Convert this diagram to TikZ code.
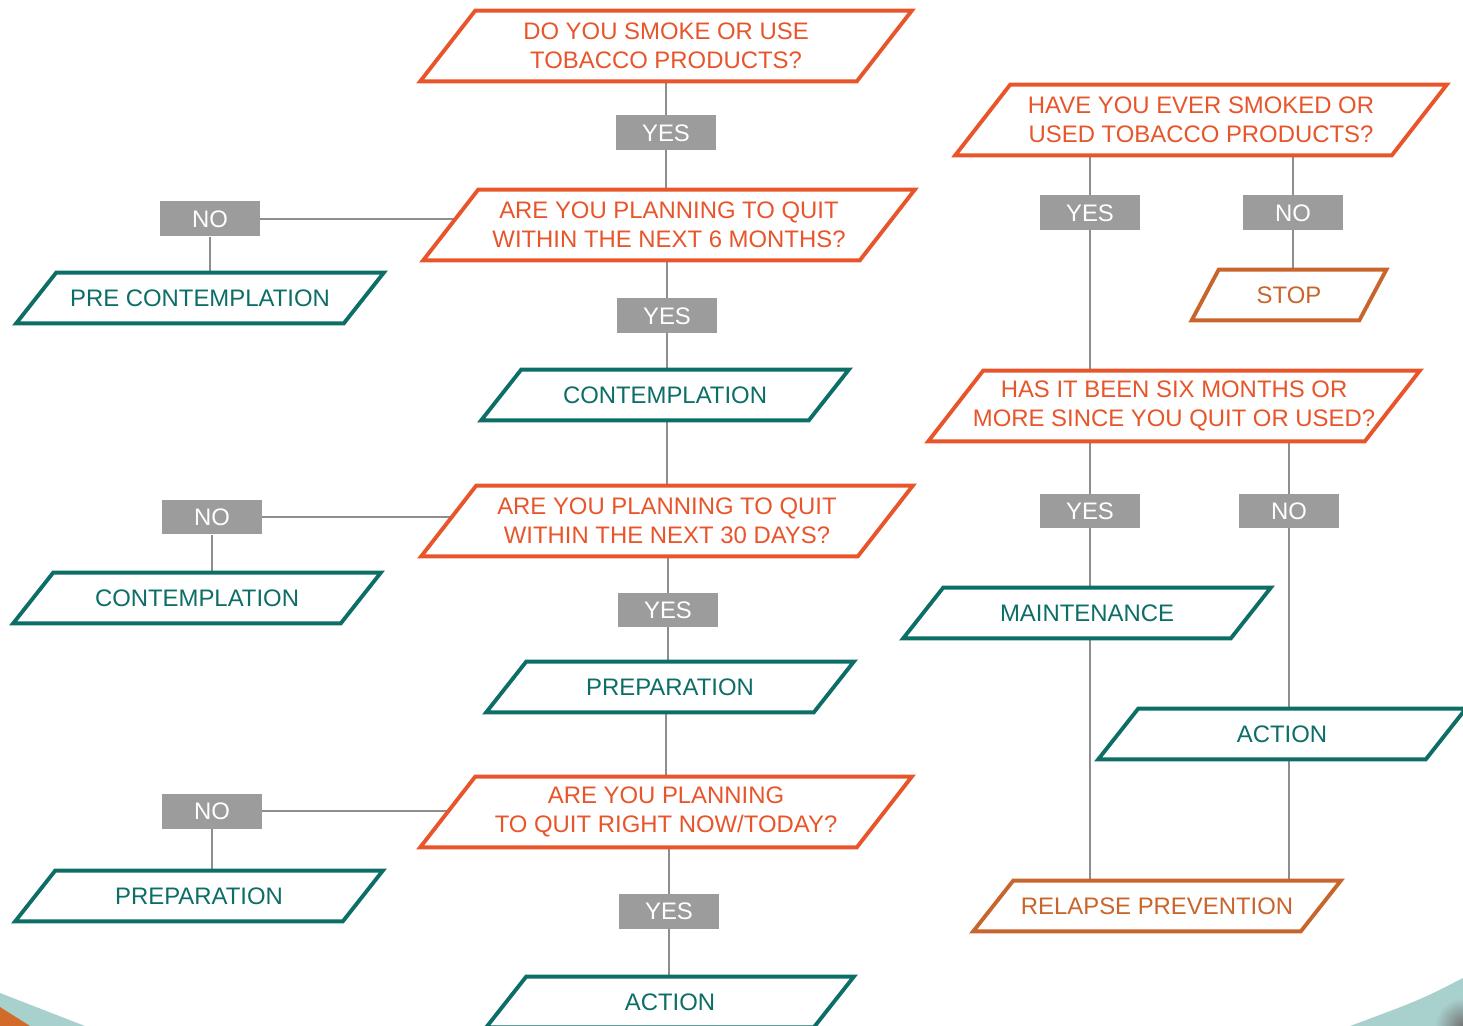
\documentclass[tikz,border=0pt]{standalone}
\usepackage{fontspec}
\setmainfont{Liberation Sans}
\usepackage{tikz}
\usetikzlibrary{backgrounds}
\usetikzlibrary{calc}

\definecolor{quorange}{HTML}{E8552B}
\definecolor{stteal}{HTML}{0C6E66}
\definecolor{endorange}{HTML}{C8652C}
\definecolor{boxgray}{HTML}{9C9C9C}
\definecolor{linegray}{HTML}{8E8E8E}
\definecolor{lightteal}{HTML}{A8D0CD}
\definecolor{cornerorange}{HTML}{D26A2A}

\tikzstyle{para} = [align=center, inner sep=0pt, font=\fontsize{13.6}{16.3}\selectfont]
\tikzstyle{question} = [para, text=quorange, minimum width=8.72cm, minimum height=1.4cm]
\tikzstyle{stage} = [para, text=stteal, minimum width=6.54cm, minimum height=1.0cm]
\tikzstyle{final} = [para, text=endorange, minimum width=6.54cm, minimum height=1.0cm]
\tikzstyle{answer} = [fill=boxgray, text=white, minimum width=2cm, minimum height=0.7cm, inner sep=0pt, font=\fontsize{13.6}{16}\selectfont]
\tikzstyle{outline} = [line width=2.2pt, fill=white, line join=miter]
\tikzstyle{link} = [linegray, line width=1.1pt]

\begin{document}
\begin{tikzpicture}[x=0.02cm, y=-0.02cm]
\useasboundingbox (0,0) rectangle (1463,1026);

\fill[lightteal] (0,993) -- (85,1026) -- (0,1026) -- cycle;
\fill[cornerorange] (0,1007) -- (30,1026) -- (0,1026) -- cycle;
\begin{scope}
\clip (1463,978) .. controls (1420,1000) .. (1350,1026) -- (1463,1026) -- cycle;
\fill[lightteal] (1340,970) rectangle (1463,1026);
\shade[inner color=black!55, outer color=lightteal] (1463,1026) circle (28);
\end{scope}

\node[question] (q1) at (666,46) {DO YOU SMOKE OR USE\\TOBACCO PRODUCTS?};
\node[answer] (yes1) at (666,133) {YES};
\node[question] (q2) at (669,225) {ARE YOU PLANNING TO QUIT\\WITHIN THE NEXT 6 MONTHS?};
\node[answer] (no2) at (210,219) {NO};
\node[stage] (pre) at (200,298) {PRE CONTEMPLATION};
\node[answer] (yes2) at (667,316) {YES};
\node[stage] (cont1) at (665,395) {CONTEMPLATION};
\node[question] (q3) at (667,521) {ARE YOU PLANNING TO QUIT\\WITHIN THE NEXT 30 DAYS?};
\node[answer] (no3) at (212,517) {NO};
\node[stage] (cont2) at (197,598) {CONTEMPLATION};
\node[answer] (yes3) at (668,610) {YES};
\node[stage] (prep1) at (670,687) {PREPARATION};
\node[question] (q4) at (666,812) {ARE YOU PLANNING\\TO QUIT RIGHT NOW/TODAY?};
\node[answer] (no4) at (212,811) {NO};
\node[stage] (prep2) at (199,896) {PREPARATION};
\node[answer] (yes4) at (669,911) {YES};
\node[stage] (act1) at (670,1002) {ACTION};

\node[question] (q5) at (1201,120) {HAVE YOU EVER SMOKED OR\\USED TOBACCO PRODUCTS?};
\node[answer] (yes5) at (1090,213) {YES};
\node[answer] (no5) at (1293,213) {NO};
\node[final, minimum width=3.34cm] (stop) at (1289,295) {STOP};
\node[question] (q6) at (1174,406) {HAS IT BEEN SIX MONTHS OR\\MORE SINCE YOU QUIT OR USED?};
\node[answer] (yes6) at (1090,511) {YES};
\node[answer] (no6) at (1289,511) {NO};
\node[stage] (maint) at (1087,613) {MAINTENANCE};
\node[stage] (act2) at (1282,734) {ACTION};
\node[final] (relapse) at (1157,906) {RELAPSE PREVENTION};

\begin{scope}[on background layer]
\draw[link] (yes1 |- q1) -- (yes1 |- q2);
\draw[link] (yes2 |- q2) -- (yes2 |- cont1);
\draw[link] (q3 |- cont1) -- (q3);
\draw[link] (yes3 |- q3) -- (yes3 |- prep1);
\draw[link] (q4 |- prep1) -- (q4);
\draw[link] (yes4 |- q4) -- (yes4 |- act1);
\draw[link] (no2) -- (no2 -| q2);
\draw[link] (no2) -- (no2 |- pre);
\draw[link] (no3) -- (no3 -| q3);
\draw[link] (no3) -- (no3 |- cont2);
\draw[link] (no4) -- (no4 -| q4);
\draw[link] (no4) -- (no4 |- prep2);
\draw[link] (yes5 |- q5) -- (yes5 |- q6);
\draw[link] (no5 |- q5) -- (no5 |- stop);
\draw[link] (yes6 |- q6) -- (yes6 |- relapse);
\draw[link] (no6 |- q6) -- (no6 |- relapse);

\foreach \n/\c/\s in {q1/quorange/27.5, q2/quorange/27.5, q3/quorange/27.5, q4/quorange/27.5,
  q5/quorange/27.5, q6/quorange/27.5, pre/stteal/20, cont1/stteal/20, cont2/stteal/20,
  prep1/stteal/20, prep2/stteal/20, act1/stteal/20, maint/stteal/20, act2/stteal/20,
  stop/endorange/13.5, relapse/endorange/20}
  \draw[outline, draw=\c] ($(\n.south west)+(-\s,0)$) -- ($(\n.north west)+(\s,0)$)
    -- ($(\n.north east)+(\s,0)$) -- ($(\n.south east)+(-\s,0)$) -- cycle;
\end{scope}

\end{tikzpicture}
\end{document}
